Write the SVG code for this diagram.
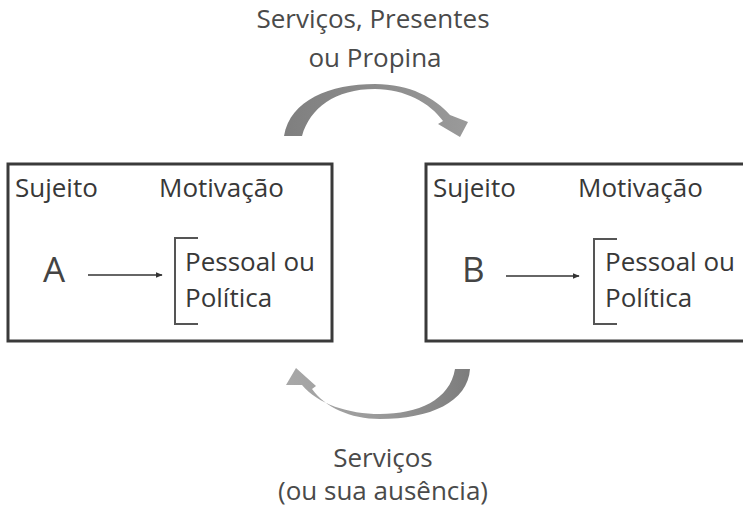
<svg xmlns="http://www.w3.org/2000/svg" width="743" height="512" viewBox="0 0 743 512">
  <defs>
    <style>
      .t { font-family: "Open Sans", "Liberation Sans", sans-serif; font-size: 26px; font-weight: 500; fill: #383838; }
      .lbl { font-family: "Open Sans", "Liberation Sans", sans-serif; font-size: 26px; font-weight: 500; fill: #4a4a4a; text-anchor: middle; }
      .big { font-family: "Open Sans", "Liberation Sans", sans-serif; font-size: 35px; font-weight: 400; fill: #444; }
      .box { fill: none; stroke: #3a3a3a; stroke-width: 3; }
      .brk { fill: none; stroke: #555; stroke-width: 2; }
      .ln { stroke: #333; stroke-width: 1.5; fill: none; }
    </style>
    <marker id="ah" viewBox="0 0 10 10" refX="9" refY="5" markerWidth="7" markerHeight="7" orient="auto" markerUnits="userSpaceOnUse">
      <path d="M0,1 L10,5 L0,9 Z" fill="#333"/>
    </marker>
    <linearGradient id="gt" x1="0" y1="0" x2="1" y2="0">
      <stop offset="0" stop-color="#7f7f7f"/>
      <stop offset="0.5" stop-color="#8c8c8c"/>
      <stop offset="1" stop-color="#9a9a9a"/>
    </linearGradient>
    <linearGradient id="gb" x1="0" y1="0" x2="1" y2="0">
      <stop offset="0" stop-color="#a8a8a8"/>
      <stop offset="0.5" stop-color="#9a9a9a"/>
      <stop offset="1" stop-color="#7c7c7c"/>
    </linearGradient>
  </defs>
  <rect width="743" height="512" fill="#ffffff"/>

  <g id="label-top">
    <text class="lbl" x="373" y="28">Serviços, Presentes</text>
    <text class="lbl" x="375" y="67">ou Propina</text>
  </g>

  <g id="nodeA">
    <rect class="box" x="8" y="164" width="324" height="177"/>
    <text class="t" x="15" y="197">Sujeito</text>
    <text class="t" x="159" y="197">Motivação</text>
    <text class="big" x="43" y="282">A</text>
    <path class="brk" d="M198,238 H175 V324 H198"/>
    <text class="t" x="185" y="271">Pessoal ou</text>
    <text class="t" x="185" y="307">Política</text>
  </g>

  <g id="nodeB">
    <rect class="box" x="426" y="164" width="330" height="177"/>
    <text class="t" x="433" y="197">Sujeito</text>
    <text class="t" x="578" y="197">Motivação</text>
    <text class="big" x="462" y="282">B</text>
    <path class="brk" d="M617,239 H594 V324 H617"/>
    <text class="t" x="605" y="271">Pessoal ou</text>
    <text class="t" x="605" y="307">Política</text>
  </g>

  <g id="connectors">
    <line class="ln" x1="88" y1="275" x2="162" y2="275" marker-end="url(#ah)"/>
    <line class="ln" x1="506" y1="276" x2="579" y2="276" marker-end="url(#ah)"/>
    <path fill="url(#gt)" d="M284,136 C290,100 330,84 375,84 C410,84 435,98 450,115 L468,122 L460,137 L438,124 L443,121 C430,103 405,89 375,89 C335,89 310,108 302,136 Z"/>
    <path fill="url(#gb)" d="M470,369 C468,402 430,419 380,419 C350,419 325,407 312,389 L316,386 L296,368 L286,385 L302,385 C318,404 348,414 380,414 C418,414 450,400 455,369 Z"/>
  </g>

  <g id="label-bottom">
    <text class="lbl" x="383" y="467">Serviços</text>
    <text class="lbl" x="383" y="500">(ou sua ausência)</text>
  </g>
</svg>
